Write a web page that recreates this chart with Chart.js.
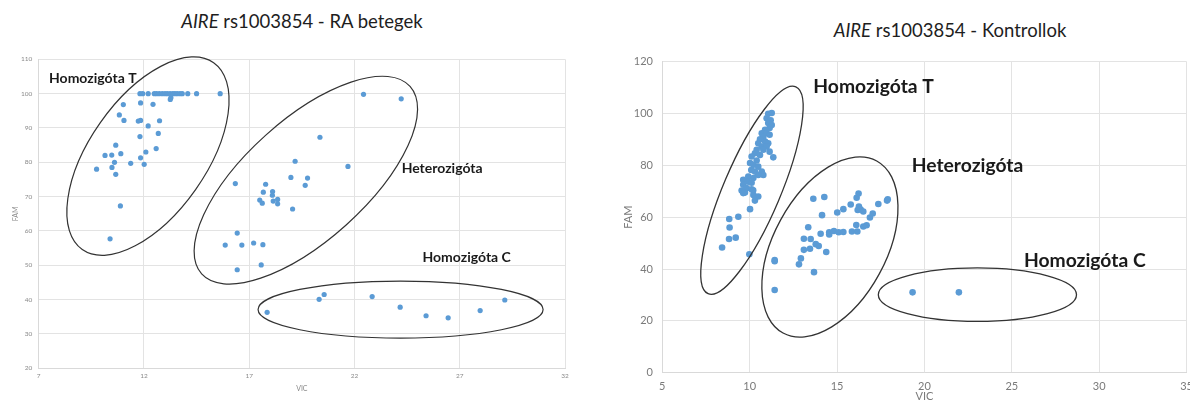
<!DOCTYPE html>
<html>
<head>
<meta charset="utf-8">
<script src="https://cdn.jsdelivr.net/npm/chart.js@4.4.1/dist/chart.umd.min.js"></script>
<style>
  html, body { margin: 0; padding: 0; background: #fff; width: 1190px; height: 403px; overflow: hidden; }
  .title { position: absolute; font-family: Lato, sans-serif; font-size: 18.5px; color: #1e1e1e;
           white-space: nowrap; transform: translate(-50%, -50%); }
  canvas { position: absolute; top: 0; }
</style>
</head>
<body>
<div class="title" style="left:302px; top:21px"><i>AIRE</i> rs1003854 - RA betegek</div>
<div class="title" style="left:950px; top:30px"><i>AIRE</i> rs1003854 - Kontrollok</div>
<canvas id="ra" width="590" height="403" style="left:0"></canvas>
<canvas id="ko" width="610" height="403" style="left:590px"></canvas>
<script>
// genotype groups (same order in both charts)
const groupNames = ['Homozigóta T', 'Heterozigóta', 'Homozigóta C'];

// RA betegek - VIC / FAM per group
const raTVic = [9.75, 10.15, 10.47, 10.66, 10.6, 10.48, 10.66, 10.9, 10.83, 11.02, 11.05, 10.88, 11.37, 11.73,
  11.84, 11.81, 11.84, 11.84, 12.01, 12.09, 12.2, 12.43, 12.58, 12.68, 12.74, 13.25, 13.28, 10.39,
  11.81, 11.94, 12.2, 12.49, 12.6, 12.73, 12.87, 13.0, 13.11, 13.24, 13.37, 13.47, 13.58, 13.71, 13.82, 14.08, 14.5, 15.62];
const raTFam = [78, 82, 82.1, 85, 80, 78.5, 76.5, 82.5, 93.8, 96.8, 92.2, 67.3, 79.7, 92,
  92.2, 87.5, 81.3, 97.3, 79.4, 83, 90.6, 96.9, 84, 88.4, 92.1, 98.3, 98.8, 57.7,
  100, 100, 100, 100, 100, 100, 100, 100, 100, 100, 100, 100, 100, 100, 100, 100, 100, 100];
const raHetVic = [16.34, 17.78, 17.67, 18.11, 18.1, 17.5, 17.62, 18.14, 18.35, 18.35, 18.98, 19.18, 19.06,
  22.43, 24.22, 20.36, 21.69, 19.77, 19.66, 16.43, 15.86, 16.65, 17.21, 17.65, 16.43, 17.57];
const raHetFam = [73.8, 73.6, 71.3, 71.5, 70.4, 69, 68.1, 68.7, 69.2, 67.9, 75.6, 80.3, 66.4,
  99.8, 98.5, 87.3, 78.8, 75.4, 73.3, 59.4, 55.9, 55.9, 56.5, 56, 48.7, 50.1];
const raCVic = [17.85, 20.32, 20.56, 22.84, 24.17, 25.4, 26.45, 27.97, 29.14];
const raCFam = [36.3, 40.1, 41.5, 40.9, 37.8, 35.3, 34.7, 36.8, 39.9];

// Kontrollok - VIC / FAM per group
const koTVic = [11.06, 11.26, 10.97, 11.2, 11.06, 11.26, 11.14, 10.88, 10.69, 10.97, 11.14, 10.78, 10.59, 10.88,
  11.06, 10.49, 10.69, 10.97, 10.78, 11.14, 10.4, 10.3, 10.59, 10.11, 11.35, 10.4, 10.02, 10.21, 10.49, 10.3,
  10.69, 10.09, 10.78, 10.49, 9.92, 10.21, 9.63, 9.92, 10.11, 9.63, 9.82, 10.11, 9.54, 9.73, 10.21, 9.63,
  10.2, 10.49, 10.3, 10.02, 9.35, 8.83, 8.85, 8.82, 9.2, 8.42, 9.98];
const koTFam = [99.9, 100.2, 98.2, 97.4, 96.3, 95.6, 94.4, 93.7, 92.4, 92.4, 91.8, 90.9, 90.1, 89.2,
  88.5, 88.5, 87.3, 87.3, 86, 85.3, 86, 84.7, 84, 83.4, 83.1, 81.9, 80.9, 80.2, 79.5, 77.6,
  77.6, 78.2, 76.3, 76.3, 75.7, 75.1, 74.4, 73.7, 73.3, 72.5, 71.2, 70.8, 70.3, 69.5, 68.6, 69.3,
  70.4, 68, 66.4, 63.1, 60.2, 59.3, 56, 51.6, 52.1, 48.3, 45.7];
const koHetVic = [11.43, 11.43, 11.43, 12.82, 12.93, 13.1, 13.1, 13.45, 13.49, 13.35, 13.68, 13.78, 13.95, 14.06,
  14.14, 13.64, 14.27, 14.38, 14.55, 14.55, 14.82, 15.01, 15.09, 15.36, 15.36, 15.78, 15.85, 16.16, 16.1,
  16.12, 16.23, 16.25, 16.18, 16.35, 16.5, 16.5, 16.69, 16.88, 17.04, 17.36, 17.86, 17.9];
const koHetFam = [43.5, 43.0, 31.9, 41.8, 44.1, 47.4, 51.7, 47.8, 51.6, 56.1, 38.8, 49.6, 48.9, 53.6,
  60.8, 67.1, 67.8, 46.6, 54.2, 53.3, 54.7, 61.8, 54.2, 54.3, 63.1, 64.9, 54.5, 54.5, 57,
  67.5, 69.1, 64.1, 62.8, 63, 62.2, 56.4, 56.9, 59.9, 61.4, 65.1, 66.4, 66.9];
const koCVic = [19.32, 21.97];
const koCFam = [31, 31];

// tick labels
const raTicksX = [7, 12, 17, 22, 27, 32];
const raTicksY = [20, 30, 40, 50, 60, 70, 80, 90, 100, 110];
const koTicksX = [5, 10, 15, 20, 25, 30, 35];
const koTicksY = [0, 20, 40, 60, 80, 100, 120];

// hand-drawn group rings (center, end of long axis in data units, short/long ratio) and labels
const raRings = [
  { center: [12.19, 81.8], end: [15.31, 109], ratio: 0.51 },
  { center: [19.69, 74.8], end: [24.64, 102.1], ratio: 0.43 },
  { center: [24.19, 37.1], end: [30.96, 37.1], ratio: 0.2 }
];
const raLabelAt = [[7.49, 104.5], [24.24, 78.2], [25.23, 52.3]];
const koRings = [
  { center: [10.13, 70.4], end: [12.64, 110.3], ratio: 0.254 },
  { center: [14.59, 48.5], end: [17.27, 81.7], ratio: 0.574 },
  { center: [23.03, 30.1], end: [28.7, 30.1], ratio: 0.27 }
];
const koLabelAt = [[13.64, 110.4], [19.27, 79.8], [25.69, 43.1]];

const zip = (xs, ys) => xs.map((v, i) => ({ x: v, y: ys[i] }));

// draws the rings and group names on top of the points
const groupOverlay = {
  id: 'groupOverlay',
  afterDatasetsDraw(chart, args, opts) {
    const { ctx, scales: { x, y } } = chart;
    ctx.save();
    ctx.strokeStyle = '#333';
    ctx.lineWidth = opts.lineWidth;
    opts.rings.forEach(r => {
      const cx = x.getPixelForValue(r.center[0]), cy = y.getPixelForValue(r.center[1]);
      const ex = x.getPixelForValue(r.end[0]), ey = y.getPixelForValue(r.end[1]);
      const a = Math.hypot(ex - cx, ey - cy);
      ctx.beginPath();
      ctx.ellipse(cx, cy, a, a * r.ratio, Math.atan2(ey - cy, ex - cx), 0, Math.PI * 2);
      ctx.stroke();
    });
    ctx.fillStyle = '#1a1a1a';
    ctx.font = opts.font;
    ctx.textBaseline = 'middle';
    opts.labelAt.forEach((p, i) => {
      ctx.fillText(groupNames[i], x.getPixelForValue(p[0]), y.getPixelForValue(p[1]));
    });
    ctx.restore();
  }
};

function makeChart(id, groups, s) {
  return new Chart(document.getElementById(id), {
    type: 'scatter',
    data: {
      datasets: groups.map((g, i) => ({
        label: groupNames[i],
        data: zip(g[0], g[1]),
        backgroundColor: '#5B9BD5',
        borderWidth: 0,
        pointRadius: s.radius
      }))
    },
    options: {
      responsive: false,
      animation: false,
      layout: { padding: { left: 0, top: s.top, right: s.right, bottom: 0 } },
      plugins: {
        legend: { display: false },
        tooltip: { enabled: false },
        groupOverlay: { rings: s.rings, labelAt: s.labelAt, font: s.labelFont, lineWidth: s.ringWidth }
      },
      scales: {
        x: {
          type: 'linear', min: s.ticksX[0], max: s.ticksX[s.ticksX.length - 1],
          afterBuildTicks: sc => { sc.ticks = s.ticksX.map(v => ({ value: v })); },
          afterFit: sc => { sc.height = s.xHeight; },
          grid: { color: '#e3e3e3', drawTicks: false },
          border: { color: '#d9d9d9' },
          ticks: { color: s.tickColor, font: { family: 'Lato', size: s.tickSize }, padding: s.xPad },
          title: { display: true, text: 'VIC', color: s.tickColor,
                   font: { family: 'Lato', size: s.titleSize }, padding: { top: 0, bottom: s.xTitlePad } }
        },
        y: {
          type: 'linear', min: s.ticksY[0], max: s.ticksY[s.ticksY.length - 1],
          afterBuildTicks: sc => { sc.ticks = s.ticksY.map(v => ({ value: v })); },
          afterFit: sc => { sc.width = s.yWidth; },
          grid: { color: '#e3e3e3', drawTicks: false },
          border: { color: '#d9d9d9' },
          ticks: { color: s.tickColor, font: { family: 'Lato', size: s.tickSize }, padding: s.yPad },
          title: { display: true, text: 'FAM', color: s.tickColor,
                   font: { family: 'Lato', size: s.titleSize }, padding: { top: s.yTitlePad, bottom: 0 } }
        }
      }
    },
    plugins: [groupOverlay]
  });
}

makeChart('ra', [[raTVic, raTFam], [raHetVic, raHetFam], [raCVic, raCFam]], {
  ticksX: raTicksX, ticksY: raTicksY, rings: raRings, labelAt: raLabelAt,
  radius: 2.6, top: 59.3, right: 25, xHeight: 34.7, yWidth: 38.7,
  tickColor: '#8a8a8a', tickSize: 6.5, titleSize: 7, xPad: 4, yPad: 6.5, xTitlePad: 10.5, yTitlePad: 11.5,
  labelFont: 'bold 14px Lato', ringWidth: 1.2
});

makeChart('ko', [[koTVic, koTFam], [koHetVic, koHetFam], [koCVic, koCFam]], {
  ticksX: koTicksX, ticksY: koTicksY, rings: koRings, labelAt: koLabelAt,
  radius: 3.3, top: 61.7, right: 13.3, xHeight: 30.3, yWidth: 72.3,
  tickColor: '#7a7a7a', tickSize: 11, titleSize: 11, xPad: 7, yPad: 9.3, xTitlePad: 0, yTitlePad: 32,
  labelFont: 'bold 19.3px Lato', ringWidth: 1.3
});
</script>
</body>
</html>
